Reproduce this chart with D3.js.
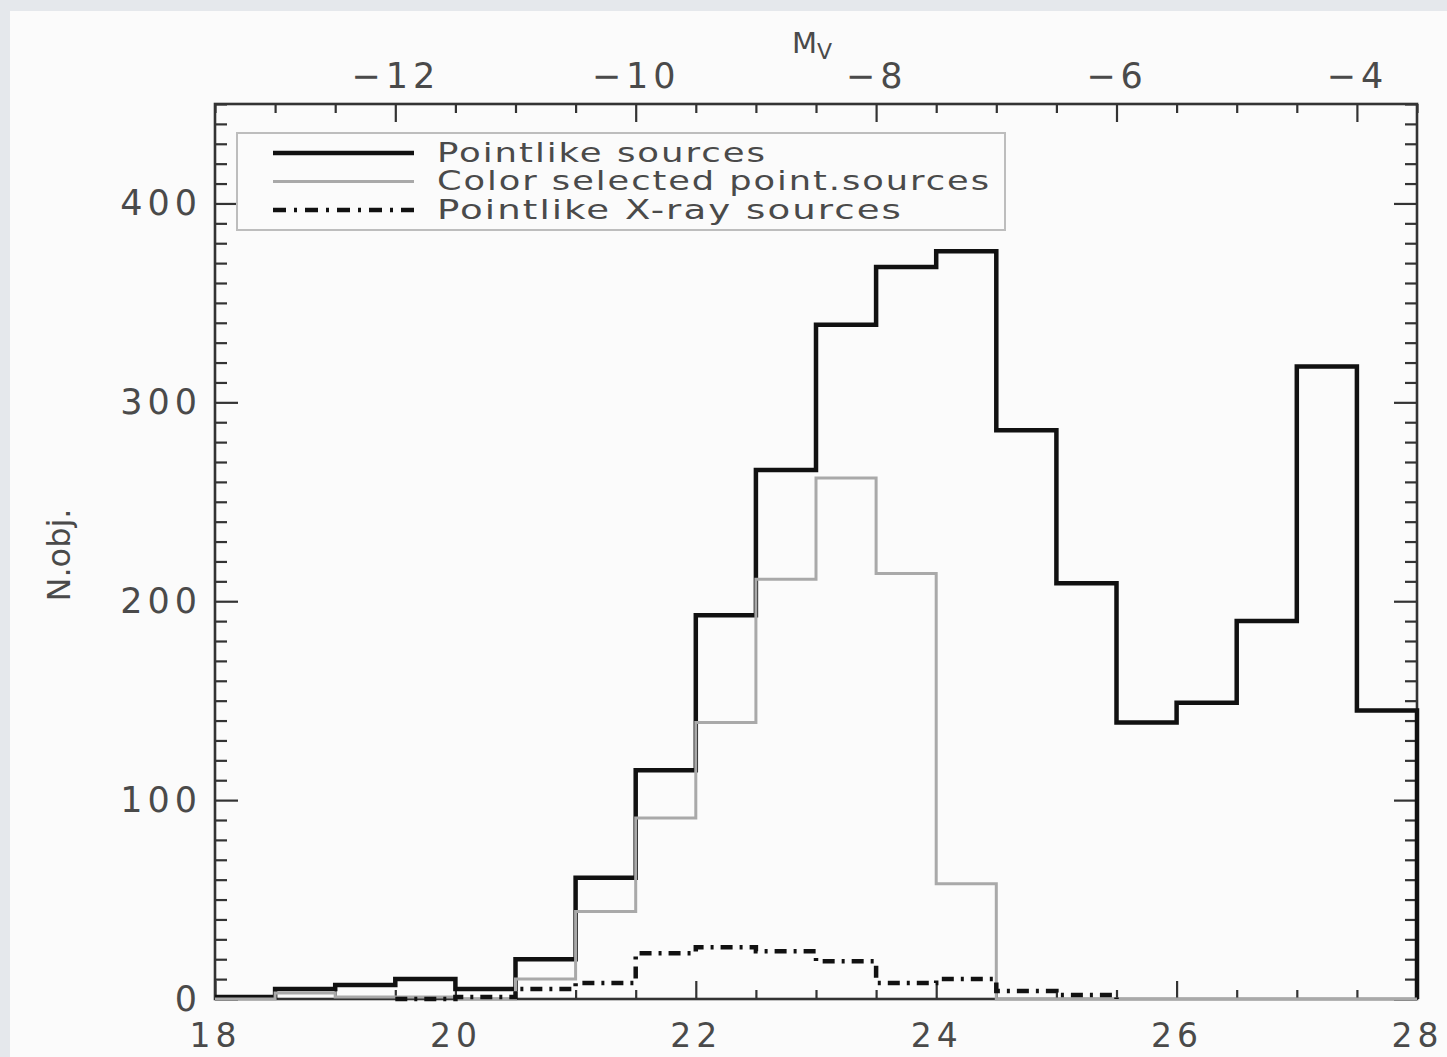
<!DOCTYPE html>
<html>
<head>
<meta charset="utf-8">
<script src="https://cdn.jsdelivr.net/npm/d3@7/dist/d3.min.js"></script>
<style>
  html, body { margin: 0; padding: 0; background: #e5e8ec; }
  svg { display: block; }
  text { font-family: "DejaVu Sans", sans-serif; fill: #4a4a4a; }
</style>
</head>
<body>
<svg id="chart" width="1447" height="1057"></svg>
<script>
// ---- data ----
const binStarts = [18, 18.5, 19, 19.5, 20, 20.5, 21, 21.5, 22, 22.5, 23, 23.5, 24, 24.5, 25, 25.5, 26, 26.5, 27, 27.5];
const binWidth = 0.5;
const pointlike = [1, 5, 7, 10, 5, 20, 61, 115, 193, 266, 339, 368, 376, 286, 209, 139, 149, 190, 318, 145];
const colorSelected = [0, 3, 1, 1, 0, 10, 44, 91, 139, 211, 262, 214, 58, 0, 0, 0, 0, 0, 0, 0];
const xraySources = [null, null, null, 0, 1, 5, 8, 23, 26, 24, 19, 8, 10, 4, 2, null, null, null, null, null];
const xTickMajor = [18, 20, 22, 24, 26, 28];
const yTickMajor = [0, 100, 200, 300, 400];
const mvTickMajor = [-12, -10, -8, -6, -4];
const mvOffset = 31.5; // M_V = m - 31.5
const legendLabels = ["Pointlike sources", "Color selected point.sources", "Pointlike X-ray sources"];

// ---- layout ----
const svg = d3.select("#chart");
const W = 1447, H = 1057;
const plot = { left: 215, right: 1417, top: 104, bottom: 999 };

svg.append("rect").attr("x", 10).attr("y", 11).attr("width", W - 10).attr("height", H - 11).attr("fill", "#fbfbfb");

const x = d3.scaleLinear().domain([18, 28]).range([plot.left, plot.right]);
const xTop = d3.scaleLinear().domain([18 - mvOffset, 28 - mvOffset]).range([plot.left, plot.right]);
const y = d3.scaleLinear().domain([0, 450]).range([plot.bottom, plot.top]);

const tickColor = "#333";

function styleAxis(fs) {
  return g => {
    g.select(".domain").remove();
    g.selectAll(".tick line").attr("stroke", tickColor).attr("stroke-width", 2.2);
    g.selectAll(".tick text").attr("font-size", fs).attr("letter-spacing", "5px")
      .attr("fill", "#4a4a4a").style("font-family", '"DejaVu Sans", sans-serif');
  };
}

const xMinor = d3.range(18, 28.001, 0.5).filter(v => Math.abs(v % 2) > 1e-6);
const mvMinor = d3.range(-13.5, -3.499, 0.5).filter(v => Math.abs(v % 2) > 1e-6);
const yMinor = d3.range(0, 450.001, 10).filter(v => v % 100 !== 0);

// bottom axis
svg.append("g").attr("transform", `translate(0,${plot.bottom})`)
  .call(d3.axisBottom(x).tickValues(xMinor).tickSize(-9).tickFormat(""))
  .call(styleAxis(33));
svg.append("g").attr("transform", `translate(0,${plot.bottom})`)
  .call(d3.axisBottom(x).tickValues(xTickMajor).tickSize(-18).tickPadding(25).tickFormat(d3.format("d")))
  .call(styleAxis(33));

// top axis (M_V)
svg.append("g").attr("transform", `translate(0,${plot.top})`)
  .call(d3.axisTop(xTop).tickValues(mvMinor).tickSize(-9).tickFormat(""))
  .call(styleAxis(35));
svg.append("g").attr("transform", `translate(0,${plot.top})`)
  .call(d3.axisTop(xTop).tickValues(mvTickMajor).tickSize(-18).tickPadding(16).tickFormat(d3.format("d")))
  .call(styleAxis(35));

// left axis
svg.append("g").attr("transform", `translate(${plot.left},0)`)
  .call(d3.axisLeft(y).tickValues(yMinor).tickSize(-12).tickFormat(""))
  .call(styleAxis(35));
svg.append("g").attr("transform", `translate(${plot.left},0)`)
  .call(d3.axisLeft(y).tickValues(yTickMajor).tickSize(-23).tickPadding(13).tickFormat(d3.format("d")))
  .call(styleAxis(35));

// right axis
svg.append("g").attr("transform", `translate(${plot.right},0)`)
  .call(d3.axisRight(y).tickValues(yMinor).tickSize(-12).tickFormat(""))
  .call(styleAxis(35));
svg.append("g").attr("transform", `translate(${plot.right},0)`)
  .call(d3.axisRight(y).tickValues(yTickMajor).tickSize(-23).tickFormat(""))
  .call(styleAxis(35));

// frame
svg.append("rect").attr("x", plot.left).attr("y", plot.top)
  .attr("width", plot.right - plot.left).attr("height", plot.bottom - plot.top)
  .attr("fill", "none").attr("stroke", "#333").attr("stroke-width", 2.6);

// histogram step paths
function stepPoints(values) {
  const pts = [];
  let last = null;
  values.forEach((v, i) => {
    if (v === null) return;
    pts.push([binStarts[i], v]);
    last = i;
  });
  const end = binStarts[last] + binWidth;
  pts.push([end, values[last]]);
  pts.push([end, 0]);
  return pts;
}
const line = d3.line().x(d => x(d[0])).y(d => y(d[1])).curve(d3.curveStepAfter);

svg.append("path").attr("d", line(stepPoints(pointlike)))
  .attr("fill", "none").attr("stroke", "#111").attr("stroke-width", 4.5).attr("stroke-linejoin", "miter");
svg.append("path").attr("d", line(stepPoints(colorSelected)))
  .attr("fill", "none").attr("stroke", "#a9a9a9").attr("stroke-width", 3);
svg.append("path").attr("d", line(stepPoints(xraySources)))
  .attr("fill", "none").attr("stroke", "#111").attr("stroke-width", 4.5)
  .attr("stroke-dasharray", "12,7,3,7");

// legend
const legend = svg.append("g");
legend.append("rect").attr("x", 237).attr("y", 133).attr("width", 768).attr("height", 97)
  .attr("fill", "#fbfbfb").attr("stroke", "#bdbdbd").attr("stroke-width", 2);
const legStyles = [
  { stroke: "#111", width: 4.5, dash: null, textWidth: 330 },
  { stroke: "#a9a9a9", width: 3, dash: null, textWidth: 554 },
  { stroke: "#111", width: 4.5, dash: "13,8,3,8", textWidth: 466 }
];
legendLabels.forEach((lab, i) => {
  const ly = 153 + i * 28.5;
  legend.append("line").attr("x1", 273).attr("x2", 414).attr("y1", ly).attr("y2", ly)
    .attr("stroke", legStyles[i].stroke).attr("stroke-width", legStyles[i].width)
    .attr("stroke-dasharray", legStyles[i].dash);
  legend.append("text").attr("x", 437).attr("y", ly + 8.5)
    .attr("font-size", 27).attr("letter-spacing", "1.5px")
    .attr("textLength", legStyles[i].textWidth).attr("lengthAdjust", "spacingAndGlyphs")
    .attr("fill", "#404040")
    .text(lab);
});

// axis titles
const mv = svg.append("text").attr("x", 792).attr("y", 53).attr("font-size", 29);
mv.append("tspan").text("M");
mv.append("tspan").attr("font-size", 22).attr("dy", 6).text("V");

svg.append("text").attr("transform", "translate(70,555) rotate(-90)")
  .attr("text-anchor", "middle").attr("font-size", 32).text("N.obj.");
</script>
</body>
</html>
